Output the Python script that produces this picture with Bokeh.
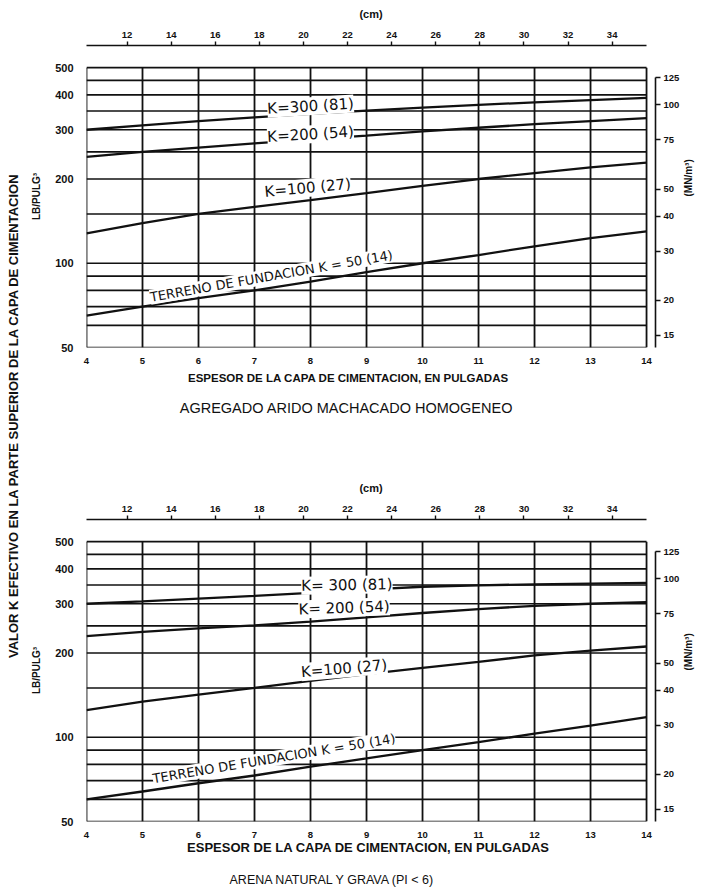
import math
from bokeh.plotting import figure
from bokeh.models import (Range1d, LinearAxis, LogAxis, LogScale, FixedTicker,
                          PrintfTickFormatter, Label)
from bokeh.layouts import row, column
from bokeh.embed import file_html
from bokeh.resources import INLINE

# ---------------- data ----------------
thickness_in = [4, 5, 6, 7, 8, 9, 10, 11, 12, 13, 14]
x_ticks = [4, 5, 6, 7, 8, 9, 10, 11, 12, 13, 14]
cm_ticks = [12, 14, 16, 18, 20, 22, 24, 26, 28, 30, 32, 34]
y_ticks = [50, 100, 200, 300, 400, 500]
y_grid = [50, 60, 70, 80, 90, 100, 150, 200, 250, 300, 350, 400, 450, 500]
mn_ticks = [15, 20, 30, 40, 50, 75, 100, 125]

# AGREGADO ARIDO MACHACADO HOMOGENEO (top chart), k in lb/pulg3
agg_k300 = [300, 311, 322, 332, 342, 351, 360, 368, 376, 383, 390]
agg_k200 = [240, 250, 259, 268, 277, 286, 296, 305, 314, 322, 330]
agg_k100 = [128, 139, 150, 159, 168, 178, 189, 200, 210, 220, 229]
agg_k50 = [65, 70, 75, 80, 86, 93, 100, 107, 115, 123, 130]

# ARENA NATURAL Y GRAVA (bottom chart)
are_k300 = [300, 306, 313, 320, 328, 337, 345, 349, 352, 354, 356]
are_k200 = [230, 238, 245, 251, 259, 268, 278, 287, 295, 300, 304]
are_k100 = [125, 134, 142, 150, 159, 168, 177, 186, 196, 204, 211]
are_k50 = [60, 64, 68.5, 73, 78.5, 84, 90, 96, 103, 110, 118]

labels_top = ["K=300 (81)", "K=200 (54)", "K=100 (27)", "TERRENO DE FUNDACION K = 50 (14)"]
labels_top_x = [8.0, 8.0, 7.95, 7.3]
labels_top_y = [364, 289, 186, 90]
labels_top_ang = [3.5, 3.5, 5.5, 10]

labels_bot = ["K= 300 (81)", "K= 200 (54)", "K=100 (27)", "TERRENO DE FUNDACION K = 50 (14)"]
labels_bot_x = [8.65, 8.6, 8.6, 7.35]
labels_bot_y = [350, 290, 176, 84]
labels_bot_ang = [1, 2, 5, 9.5]

x_title = "ESPESOR DE LA CAPA DE CIMENTACION, EN PULGADAS"
y_title = "LB/PULG³"
y2_title = "(MN/m³)"
cm_title = "(cm)"
side_title = "VALOR K EFECTIVO EN LA PARTE SUPERIOR DE LA CAPA DE CIMENTACION"
sub_top = "AGREGADO ARIDO MACHACADO HOMOGENEO"
sub_bot = "ARENA NATURAL Y GRAVA (PI < 6)"

PCI_TO_MN = 0.2714
IN_TO_CM = 2.54
Y_MIN, Y_MAX = 50, 600
X_MIN, X_MAX = 4, 14.16

FONT = "Liberation Sans"
LFONT = "DejaVu Sans"
INK = "#111111"
FIG_W = 677


def make_chart(curves, ltext, lx, ly, lang, top_border, bottom_border):
    p = figure(frame_width=569, frame_height=302,
               x_range=Range1d(X_MIN, X_MAX), y_range=Range1d(Y_MIN, Y_MAX),
               y_axis_type="log", toolbar_location=None, output_backend="svg",
               min_border_left=62, min_border_right=46,
               min_border_top=top_border, min_border_bottom=bottom_border)
    p.outline_line_color = None
    p.xgrid.visible = False
    p.ygrid.visible = False
    p.background_fill_color = "white"
    p.border_fill_color = "white"

    # bottom axis (inches)
    xa = p.xaxis[0]
    xa.ticker = FixedTicker(ticks=x_ticks)
    xa.formatter = PrintfTickFormatter(format="%d")
    xa.axis_line_color = None
    xa.major_tick_line_color = None
    xa.minor_tick_line_color = None
    xa.major_label_standoff = 4
    xa.major_label_text_font = FONT
    xa.major_label_text_font_size = "9.5px"
    xa.major_label_text_font_style = "bold"
    xa.major_label_text_color = INK

    # left axis (lb/pulg3)
    ya = p.yaxis[0]
    ya.ticker = FixedTicker(ticks=y_ticks)
    ya.formatter = PrintfTickFormatter(format="%d")
    ya.axis_line_color = None
    ya.major_tick_line_color = None
    ya.minor_tick_line_color = None
    ya.major_label_standoff = 7
    ya.major_label_text_font = FONT
    ya.major_label_text_font_size = "11px"
    ya.major_label_text_font_style = "bold"
    ya.major_label_text_color = INK
    ya.axis_label = y_title
    ya.axis_label_standoff = 10
    ya.axis_label_text_font = FONT
    ya.axis_label_text_font_size = "10px"
    ya.axis_label_text_font_style = "bold"
    ya.axis_label_text_color = INK

    # right axis (MN/m3)
    p.extra_y_ranges = {"mn": Range1d(Y_MIN * PCI_TO_MN, Y_MAX * PCI_TO_MN)}
    p.extra_y_scales = {"mn": LogScale()}
    ra = LogAxis(y_range_name="mn", ticker=FixedTicker(ticks=mn_ticks),
                 formatter=PrintfTickFormatter(format="%d"),
                 bounds=(Y_MIN * PCI_TO_MN, mn_ticks[-1]))
    ra.axis_line_color = INK
    ra.axis_line_width = 1.6
    ra.major_tick_out = 5
    ra.major_tick_in = 0
    ra.major_tick_line_color = INK
    ra.major_tick_line_width = 1.4
    ra.minor_tick_line_color = None
    ra.major_label_standoff = 3
    ra.major_label_text_font = FONT
    ra.major_label_text_font_size = "9.5px"
    ra.major_label_text_font_style = "bold"
    ra.major_label_text_color = INK
    ra.axis_label = y2_title
    ra.axis_label_standoff = 6
    ra.axis_label_orientation = math.pi / 2
    ra.axis_label_text_font = FONT
    ra.axis_label_text_font_size = "10px"
    ra.axis_label_text_font_style = "bold"
    ra.axis_label_text_color = INK
    p.add_layout(ra, "right")

    # top axis (cm)
    p.extra_x_ranges = {"cm": Range1d(X_MIN * IN_TO_CM, X_MAX * IN_TO_CM)}
    ca = LinearAxis(x_range_name="cm", ticker=FixedTicker(ticks=cm_ticks),
                    formatter=PrintfTickFormatter(format="%d"),
                    bounds=(x_ticks[0] * IN_TO_CM, x_ticks[-1] * IN_TO_CM))
    ca.axis_line_color = INK
    ca.axis_line_width = 1.6
    ca.major_tick_out = 4
    ca.major_tick_in = 0
    ca.major_tick_line_color = INK
    ca.major_tick_line_width = 1.4
    ca.minor_tick_line_color = None
    ca.major_label_standoff = 4
    ca.major_label_text_font = FONT
    ca.major_label_text_font_size = "9.5px"
    ca.major_label_text_font_style = "bold"
    ca.major_label_text_color = INK
    ca.axis_label = cm_title
    ca.axis_label_standoff = 9
    ca.axis_label_text_font = FONT
    ca.axis_label_text_font_size = "11px"
    ca.axis_label_text_font_style = "bold"
    ca.axis_label_text_color = INK
    p.add_layout(ca, "above")

    # grid of the chart
    nh = len(y_grid)
    p.segment(x0=[x_ticks[0]] * nh, x1=[x_ticks[-1]] * nh, y0=y_grid, y1=y_grid,
              line_color=INK, line_width=1.7)
    nv = len(x_ticks)
    p.segment(x0=x_ticks, x1=x_ticks, y0=[y_grid[0]] * nv, y1=[y_grid[-1]] * nv,
              line_color=INK, line_width=1.8)

    for ys in curves:
        p.line(thickness_in, ys, line_color=INK, line_width=2.3)

    for t, x, y, a in zip(ltext, lx, ly, lang):
        p.add_layout(Label(x=x, y=y, text=t, angle=a, angle_units="deg",
                           text_align="center", text_baseline="middle",
                           text_font=LFONT, text_font_size="15px" if len(t) < 15 else "13px",
                           text_color=INK, background_fill_color="white"))
    return p


def caption(height, texts, xs, ys, sizes, styles):
    c = figure(width=FIG_W, height=height, toolbar_location=None, output_backend="svg",
               x_range=(0, 1), y_range=(0, 1), min_border=0,
               x_axis_location=None, y_axis_location=None)
    c.grid.visible = False
    c.outline_line_color = None
    for t, x, y, s, st in zip(texts, xs, ys, sizes, styles):
        c.add_layout(Label(x=x, y=y, x_units="screen", y_units="screen", text=t,
                           text_align="center", text_baseline="middle",
                           text_font=FONT, text_font_size=s, text_font_style=st,
                           text_color=INK))
    return c


top = make_chart([agg_k300, agg_k200, agg_k100, agg_k50],
                 labels_top, labels_top_x, labels_top_y, labels_top_ang, 45, 20)
cap_top = caption(109, [x_title, sub_top], [262, 260], [99, 69],
                  ["11.5px", "14.5px"], ["bold", "normal"])
bot = make_chart([are_k300, are_k200, are_k100, are_k50],
                 labels_bot, labels_bot_x, labels_bot_y, labels_bot_ang, 43, 17)
cap_bot = caption(50, [x_title, sub_bot], [282, 246], [43, 11],
                  ["13px", "12.5px"], ["bold", "normal"])

strip = figure(width=24, height=888, toolbar_location=None, output_backend="svg",
               x_range=(0, 1), y_range=(0, 1), min_border=0,
               x_axis_location=None, y_axis_location=None)
strip.grid.visible = False
strip.outline_line_color = None
strip.add_layout(Label(x=13, y=473, x_units="screen", y_units="screen",
                       text=side_title, angle=90, angle_units="deg",
                       text_align="center", text_baseline="middle",
                       text_font=FONT, text_font_size="13px", text_font_style="bold",
                       text_color=INK))

layout = row(strip, column(top, cap_top, bot, cap_bot, spacing=0), spacing=0)
open("out.html", "w").write(file_html(layout, INLINE))
